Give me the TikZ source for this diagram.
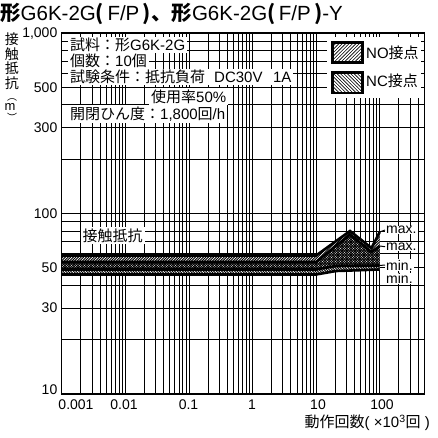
\documentclass[tikz,border=0pt]{standalone}
\usepackage{fontspec}
\setmainfont{Liberation Sans}
\newfontfamily\jp{Noto Sans CJK JP}
\newcommand\jtxt[1]{{\jp #1}}
\usetikzlibrary{patterns}
\pgfdeclarepatternformonly{bandne}{\pgfqpoint{-1pt}{-1pt}}{\pgfqpoint{4pt}{4pt}}{\pgfqpoint{2.6pt}{2.6pt}}{\pgfsetlinewidth{0.9pt}\pgfpathmoveto{\pgfqpoint{-0.1pt}{-0.1pt}}\pgfpathlineto{\pgfqpoint{2.7pt}{2.7pt}}\pgfusepath{stroke}}
\pgfdeclarepatternformonly{bandnw}{\pgfqpoint{-1pt}{-1pt}}{\pgfqpoint{4pt}{4pt}}{\pgfqpoint{2.6pt}{2.6pt}}{\pgfsetlinewidth{0.9pt}\pgfpathmoveto{\pgfqpoint{-0.1pt}{2.7pt}}\pgfpathlineto{\pgfqpoint{2.7pt}{-0.1pt}}\pgfusepath{stroke}}
\pgfdeclarepatternformonly{legne}{\pgfqpoint{-1pt}{-1pt}}{\pgfqpoint{5pt}{5pt}}{\pgfqpoint{3.4pt}{3.4pt}}{\pgfsetlinewidth{0.6pt}\pgfpathmoveto{\pgfqpoint{-0.1pt}{-0.1pt}}\pgfpathlineto{\pgfqpoint{3.5pt}{3.5pt}}\pgfusepath{stroke}}
\pgfdeclarepatternformonly{legnw}{\pgfqpoint{-1pt}{-1pt}}{\pgfqpoint{5pt}{5pt}}{\pgfqpoint{3.4pt}{3.4pt}}{\pgfsetlinewidth{0.6pt}\pgfpathmoveto{\pgfqpoint{-0.1pt}{3.5pt}}\pgfpathlineto{\pgfqpoint{3.5pt}{-0.1pt}}\pgfusepath{stroke}}
\tikzset{
  gridline/.style={line width=0.75pt, black},
  frameline/.style={line width=1.2pt, black},
  tick/.style={font=\fontsize{14}{16}\selectfont, inner sep=0pt},
  note/.style={font=\fontsize{15}{17}\selectfont, fill=white, anchor=west, inner xsep=2pt, inner ysep=1.5pt},
  bandline/.style={line width=2.6pt, black, line join=miter},
  limlabel/.style={font=\fontsize{14}{16}\selectfont, fill=white, anchor=west, inner xsep=1pt, inner ysep=0.5pt},
  legbox/.style={draw=black, line width=2.6pt},
  vt/.style={font=\jp\fontsize{14}{14}\selectfont, inner sep=0pt, text height=11pt, text depth=1.5pt},
  vtp/.style={font=\jp\fontsize{10}{10}\selectfont, inner sep=0pt, text height=7pt, text depth=0.5pt},
}
\begin{document}
\begin{tikzpicture}[x=1pt,y=-1pt]
\useasboundingbox (0,0) rectangle (438,437);
% grid: vertical
\foreach \n in {-3,...,1}{
  \foreach \k in {1,...,9}{
    \pgfmathsetmacro\xx{61.7+63.6*(log10(\k)+\n+3)}
    \draw[gridline] (\xx,33) -- (\xx,394);
  }
}
\foreach \k in {1,...,5}{
  \pgfmathsetmacro\xx{61.7+63.6*(log10(\k)+5)}
  \draw[gridline] (\xx,33) -- (\xx,394);
}
% grid: horizontal
\foreach \n in {1,2}{
  \foreach \k in {1,...,9}{
    \pgfmathsetmacro\yy{394-180.5*(log10(\k)+\n-1)}
    \draw[gridline] (61.7,\yy) -- (424.3,\yy);
  }
}
% band coordinates
\coordinate (a0) at (61.7,255.5); \coordinate (a1) at (316.1,255.5); \coordinate (a2) at (350,231); \coordinate (a3) at (371.5,248); \coordinate (a4) at (379.7,232);
\coordinate (b0) at (61.7,269.5); \coordinate (b1) at (316.1,269.5); \coordinate (b2) at (336,266); \coordinate (b4) at (379.7,265.5);
\coordinate (c0) at (61.7,262); \coordinate (c1) at (316.1,262); \coordinate (c2) at (350,234.5); \coordinate (c3) at (371.5,252); \coordinate (c4) at (379.7,246);
\coordinate (d0) at (61.7,274.5); \coordinate (d1) at (316.1,274.5); \coordinate (d2) at (336,271); \coordinate (d4) at (379.7,269.5);
% band fills
\fill[white] (a0) -- (a1) -- (a2) -- (a3) -- (a4) -- (d4) -- (d2) -- (d1) -- (d0) -- cycle;
\fill[pattern=bandne] (a0) -- (a1) -- (a2) -- (a3) -- (a4) -- (b4) -- (b2) -- (b1) -- (b0) -- cycle;
\fill[pattern=bandnw] (c0) -- (c1) -- (c2) -- (c3) -- (c4) -- (d4) -- (d2) -- (d1) -- (d0) -- cycle;
% band lines
\draw[bandline] (a0) -- (a1) -- (a2) -- (a3) -- (a4);
\draw[bandline] (c0) -- (c1) -- (c2) -- (c3) -- (c4);
\draw[bandline] (b0) -- (b1) -- (b2) -- (b4);
\draw[bandline] (d0) -- (d1) -- (d2) -- (d4);
% max / min labels
\node[limlabel] (max1) at (385,230) {max.};
\node[limlabel] (max2) at (385,246.7) {max.};
\node[limlabel] (min1) at (385,265) {min.};
\node[limlabel] (min2) at (385,278.3) {min.};
\draw[line width=1pt] (a4) -- (max1.west);
\draw[line width=1pt] (c4) -- (max2.west);
\draw[line width=1pt] (b4) -- (min1.west);
% contact resistance label
\node[note, anchor=center] (cr) at (112.5,235.7) {\jtxt{接触抵抗}};
% test conditions
\node[note] (t1) at (68,45) {\jtxt{試料：形}G6K-2G};
\node[note] (t2) at (68,60.5) {\jtxt{個数：}10\jtxt{個}};
\node[note] (t3) at (68,77) {\jtxt{試験条件：抵抗負荷}\hspace{0.6em}DC30V\hspace{0.7em}1A};
\node[note] (t4) at (149,96.5) {\jtxt{使用率}50\%};
\node[note] (t5) at (68,114) {\jtxt{開閉ひん度：}1,800\jtxt{回}/h};
% legend
\fill[white] (327,37) rectangle (421,98);
\draw[legbox, pattern=legne] (332.5,42.5) rectangle (362.5,62.5);
\draw[legbox, pattern=legnw] (332.5,72.5) rectangle (362.5,93);
\node[note, fill=none, inner xsep=0pt] (lno) at (366,53) {NO\jtxt{接点}};
\node[note, fill=none, inner xsep=0pt] (lnc) at (366,81) {NC\jtxt{接点}};
% frame
\draw[frameline] (61.7,33) rectangle (424.3,394);
% y tick labels
\node[tick, anchor=east] (y1000) at (57.5,34) {1,000};
\node[tick, anchor=east] (y500) at (57.5,87.5) {500};
\node[tick, anchor=east] (y300) at (57.5,127.5) {300};
\node[tick, anchor=east] (y100) at (57.5,213.5) {100};
\node[tick, anchor=east] (y50) at (57.5,268) {50};
\node[tick, anchor=east] (y30) at (57.5,308) {30};
\node[tick, anchor=east] (y10) at (57.5,390) {10};
% x tick labels
\node[tick] (x0) at (76,405) {0.001};
\node[tick] (x1) at (124,405) {0.01};
\node[tick] (x2) at (188.5,405) {0.1};
\node[tick] (x3) at (252,405) {1};
\node[tick] (x4) at (318,405) {10};
\node[tick] (x5) at (382,405) {100};
% x axis title
\node[font=\fontsize{15}{17}\selectfont, inner sep=0pt, anchor=east] (xt) at (430,423) {\jtxt{動作回数}( \texttimes10\textsuperscript{3}\jtxt{回} )};
% y axis title (vertical)
\node[vt] (v1) at (12,40) {接};
\node[vt] (v2) at (12,54.5) {触};
\node[vt] (v3) at (12,69) {抵};
\node[vt] (v4) at (12,83.5) {抗};
\node[vtp] (v5) at (12,97) {︵};
\node[inner sep=0pt, font=\fontsize{13}{13}\selectfont] (v6) at (10,107) {m};
\node[vtp] (v7) at (12,118.5) {︶};
% title
\node[font=\fontsize{20.5}{22}\selectfont, inner sep=0pt, anchor=west] (title) at (0,14) {{\jp\bfseries 形}G6K-2G{\jp\bfseries (}\,F/P\,{\jp\bfseries )、形}G6K-2G{\jp\bfseries (}\,F/P\,{\jp\bfseries )}-Y};
\end{tikzpicture}
\end{document}
